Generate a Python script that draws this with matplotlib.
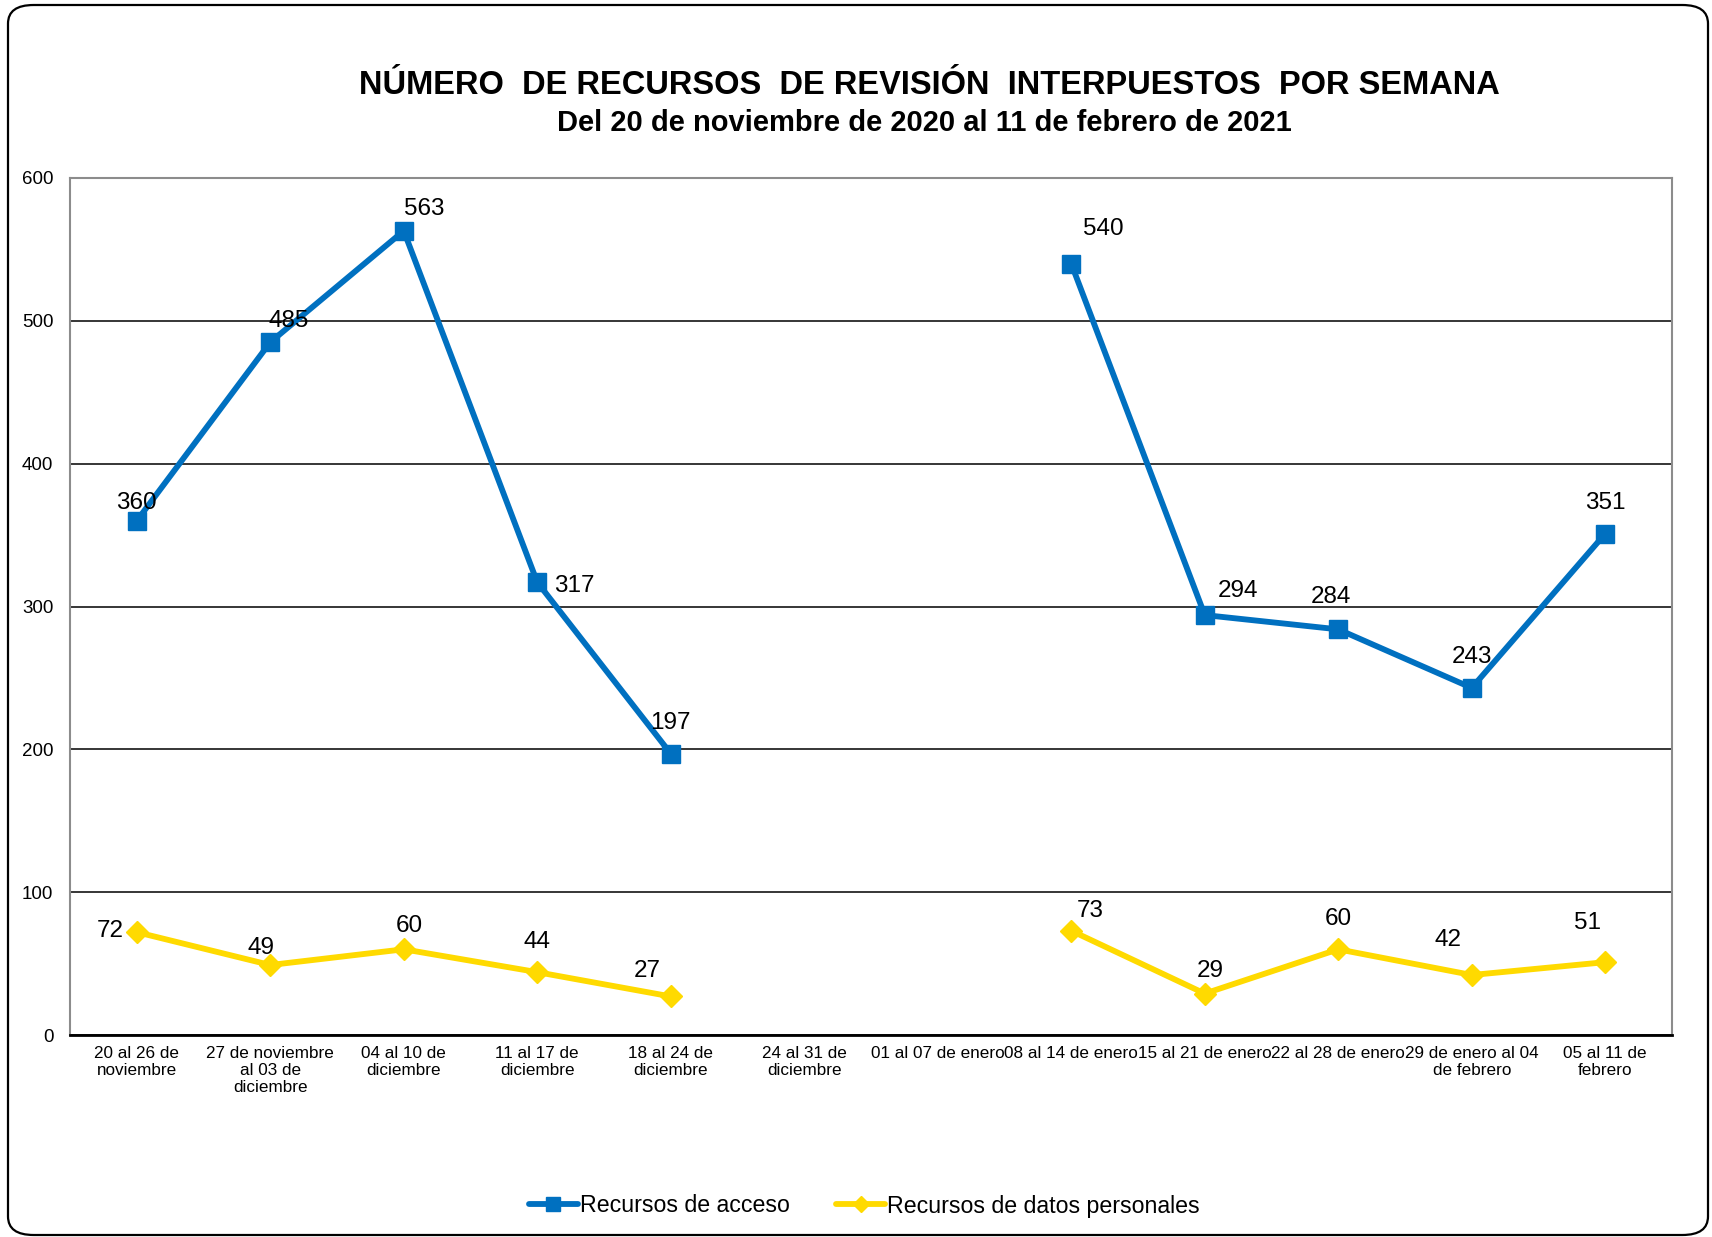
import numpy as np
import matplotlib
matplotlib.use('Agg')
import matplotlib.pyplot as plt
from matplotlib.patches import FancyBboxPatch

plt.rcParams['font.family'] = ['Liberation Sans', 'DejaVu Sans']

# datos de la gráfica
semanas = ['20 al 26 de\nnoviembre', '27 de noviembre\nal 03 de\ndiciembre',
           '04 al 10 de\ndiciembre', '11 al 17 de\ndiciembre',
           '18 al 24 de\ndiciembre', '24 al 31 de\ndiciembre',
           '01 al 07 de enero', '08 al 14 de enero', '15 al 21 de enero',
           '22 al 28 de enero', '29 de enero al 04\nde febrero',
           '05 al 11 de\nfebrero']
acceso = [360, 485, 563, 317, 197, np.nan, np.nan, 540, 294, 284, 243, 351]
datos_personales = [72, 49, 60, 44, 27, np.nan, np.nan, 73, 29, 60, 42, 51]
y_ticks = [0, 100, 200, 300, 400, 500, 600]

# desplazamiento de las etiquetas (en puntos)
off_acceso = [(0, 13), (13, 15), (15, 16), (27, -3), (0, 22), None, None,
              (23, 25), (24, 17), (-5, 23), (0, 22), (0, 22)]
off_datos = [(-19, 1), (-7, 12), (4, 17), (0, 22), (-17, 18), None, None,
             (14, 14), (4, 16), (0, 22), (-17, 25), (-13, 28)]

azul = '#0070C0'
amarillo = '#FFDA00'

fig = plt.figure(figsize=(17.12, 12.37), dpi=100)

# marco redondeado
marco = FancyBboxPatch((8 / 1712, 2 / 1237), 1700 / 1712, 1230 / 1237,
                       boxstyle='round,pad=0,rounding_size=0.015',
                       transform=fig.transFigure, fill=False,
                       edgecolor='black', linewidth=1.6)
fig.patches.append(marco)

ax = fig.add_axes([70 / 1712, 1 - 1035 / 1237, 1602 / 1712, 857 / 1237])

x = np.arange(len(semanas))
ax.plot(x, acceso, color=azul, linewidth=4.2, marker='s', markersize=13,
        solid_capstyle='round', label='Recursos de acceso')
ax.plot(x, datos_personales, color=amarillo, linewidth=4.2, marker='D',
        markersize=11, solid_capstyle='round',
        label='Recursos de datos personales')

for i in range(len(semanas)):
    if off_acceso[i] is not None:
        ax.annotate(str(acceso[i]), (x[i], acceso[i]), xytext=off_acceso[i],
                    textcoords='offset points', ha='center', va='center',
                    fontsize=17.5)
    if off_datos[i] is not None:
        ax.annotate(str(datos_personales[i]), (x[i], datos_personales[i]),
                    xytext=off_datos[i], textcoords='offset points',
                    ha='center', va='center', fontsize=17.5)

ax.set_xlim(-0.5, len(semanas) - 0.5)
ax.set_ylim(0, 600)
ax.set_yticks(y_ticks)
ax.set_xticks(x)
ax.set_xticklabels(semanas, fontsize=12.3, linespacing=1.15)
ax.tick_params(axis='y', length=0, pad=12, labelsize=13.5)
ax.tick_params(axis='x', length=0, pad=8)
ax.grid(axis='y', color='black', linewidth=1.1)
ax.set_axisbelow(True)
for s in ['top', 'right', 'left']:
    ax.spines[s].set_color('#8c8c8c')
    ax.spines[s].set_linewidth(1.5)
ax.spines['bottom'].set_color('black')
ax.spines['bottom'].set_linewidth(2)

fig.text(0.543, 1 - 85 / 1237, 'NÚMERO  DE RECURSOS  DE REVISIÓN  INTERPUESTOS  POR SEMANA',
         ha='center', va='center', fontsize=23.5, fontweight='bold')
fig.text(0.540, 1 - 123 / 1237, 'Del 20 de noviembre de 2020 al 11 de febrero de 2021',
         ha='center', va='center', fontsize=21, fontweight='bold')

fig.legend(loc='center', bbox_to_anchor=(0.505, 1 - 1206 / 1237), ncol=2,
           frameon=False, fontsize=16.7, handlelength=2.1, handletextpad=0.1,
           columnspacing=2.0, markerscale=0.75)

fig.savefig('out.png', dpi=100)
